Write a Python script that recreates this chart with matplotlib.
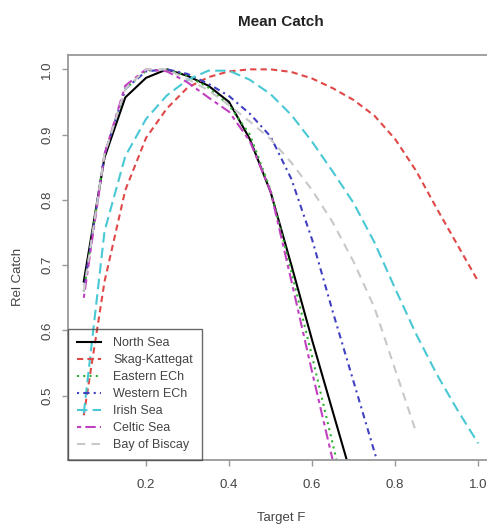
import numpy as np
import matplotlib.pyplot as plt

plt.rcParams["font.family"] = ["Liberation Sans", "DejaVu Sans"]

# Target F grid
target_f = [0.05, 0.10, 0.15, 0.20, 0.25, 0.30, 0.35, 0.40, 0.45, 0.50,
            0.55, 0.60, 0.65, 0.70, 0.75, 0.80, 0.85, 0.90, 0.95, 1.00]

nan = np.nan
north_sea = [0.675, 0.865, 0.957, 0.987, 1.000, 0.990, 0.975, 0.950, 0.893, 0.812,
             0.700, 0.585, 0.475, 0.365, nan, nan, nan, nan, nan, nan]
skag_kattegat = [0.470, 0.675, 0.815, 0.895, 0.940, 0.972, 0.988, 0.997, 1.000, 1.000,
                 0.996, 0.986, 0.971, 0.953, 0.929, 0.893, 0.845, 0.787, 0.731, 0.675]
eastern_ech = [0.660, 0.870, 0.970, 0.998, 1.000, 0.990, 0.972, 0.945, 0.900, 0.815,
               0.690, 0.560, 0.425, 0.290, nan, nan, nan, nan, nan, nan]
western_ech = [0.660, 0.870, 0.970, 0.997, 1.000, 0.993, 0.978, 0.959, 0.932, 0.897,
               0.832, 0.739, 0.628, 0.521, 0.414, 0.307, nan, nan, nan, nan]
irish_sea = [0.473, 0.752, 0.867, 0.924, 0.960, 0.984, 0.998, 0.998, 0.984, 0.962,
             0.930, 0.889, 0.843, 0.795, 0.735, 0.664, 0.595, 0.533, 0.478, 0.427]
celtic_sea = [0.650, 0.870, 0.975, 1.000, 0.997, 0.980, 0.957, 0.935, 0.890, 0.813,
              0.676, 0.536, 0.400, 0.270, nan, nan, nan, nan, nan, nan]
bay_of_biscay = [0.660, 0.870, 0.970, 1.000, 1.000, 0.985, 0.968, 0.945, 0.920, 0.893,
                 0.857, 0.815, 0.765, 0.705, 0.635, 0.540, 0.445, nan, nan, nan]

series = [
    ("North Sea", north_sea, "black", "-"),
    ("Skag-Kattegat", skag_kattegat, "#e04848", (0, (3, 2))),
    ("Eastern ECh", eastern_ech, "#30b030", (0, (1, 2))),
    ("Western ECh", western_ech, "#4040c0", (0, (1, 2, 3, 2))),
    ("Irish Sea", irish_sea, "#48c8d4", (0, (5, 2.5))),
    ("Celtic Sea", celtic_sea, "#c040c0", (0, (2, 2, 5, 2))),
    ("Bay of Biscay", bay_of_biscay, "#c8c8c8", (0, (4, 3))),
]

fig = plt.figure(figsize=(4.87, 5.27), dpi=100)
ax = fig.add_axes([68 / 487, 67 / 527, 426 / 487, 405 / 527])

for name, vals, col, ls in series:
    ax.plot(target_f, vals, color=col, linestyle=ls, linewidth=1.5, label=name)

ax.set_xlim(0.012, 1.038)
ax.set_ylim(0.4015, 1.022)
ax.set_xticks([0.2, 0.4, 0.6, 0.8, 1.0])
ax.set_xticklabels(["0.2", "0.4", "0.6", "0.8", "1.0"])
ax.set_yticks([0.5, 0.6, 0.7, 0.8, 0.9, 1.0])
ax.set_yticklabels(["0.5", "0.6", "0.7", "0.8", "0.9", "1.0"],
                   rotation=90, va="center")

for sp in ax.spines.values():
    sp.set_color("#999999")
    sp.set_linewidth(1.3)
ax.tick_params(axis="both", direction="out", length=4.5, width=1,
               color="#999999", labelsize=9.5, labelcolor="#444444")
ax.tick_params(axis="x", pad=9)
ax.tick_params(axis="y", pad=6)

leg = ax.legend(loc="lower left", bbox_to_anchor=(0, 0), borderaxespad=0,
                fontsize=9, handlelength=1.9, handletextpad=1.0,
                labelspacing=0.4, frameon=True, fancybox=False,
                borderpad=0.7)
leg.get_frame().set_facecolor("none")
leg.get_frame().set_edgecolor("#444444")
leg.get_frame().set_linewidth(1)
for t in leg.get_texts():
    t.set_color("#444444")

fig.text(281 / 487, 1 - 22 / 527, "Mean Catch", ha="center", va="center",
         fontsize=11, fontweight="bold", color="#222222")
fig.text(281 / 487, 1 - 518 / 527, "Target F", ha="center", va="center",
         fontsize=9.5, color="#444444")
fig.text(18 / 487, 1 - 277 / 527, "Rel Catch", ha="center", va="center",
         rotation=90, fontsize=9.5, color="#444444")

fig.savefig("out.png", dpi=100)
